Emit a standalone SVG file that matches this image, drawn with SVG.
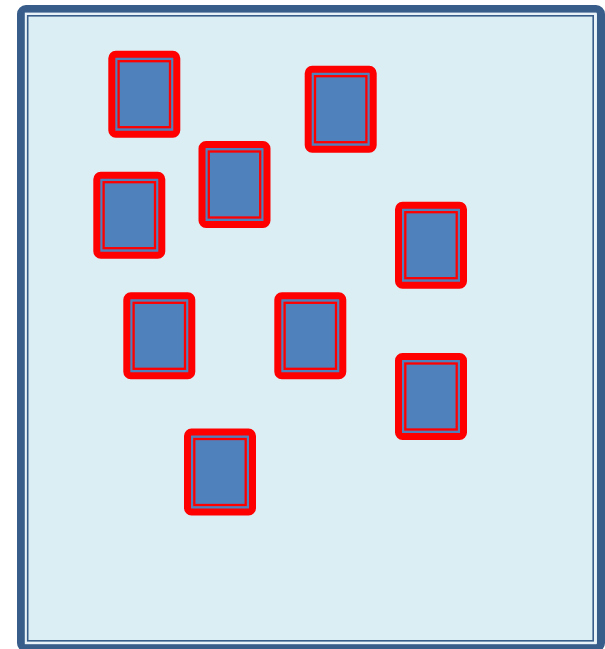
<svg xmlns="http://www.w3.org/2000/svg" width="605" height="649" viewBox="0 0 605 649">
<defs>
<style>
.frame-out{fill:#DBEEF4;stroke:#385D8A;stroke-width:8}
.frame-light{fill:none;stroke:#E9F2F8;stroke-width:2.4}
.frame-in{fill:none;stroke:#385D8A;stroke-width:1.6}
.card{fill:#4F81BD;stroke:#FF0000;stroke-width:7}
.card-in{fill:none;stroke:#FF0000;stroke-width:2.3}
</style>
<g id="cardShape">
<rect class="card" x="3.5" y="3.5" width="65" height="80" rx="4"/>
<rect class="card-in" x="10.3" y="10.5" width="51.4" height="66"/>
</g>
</defs>
<rect width="605" height="649" fill="#FFFFFF"/>
<g id="frame">
<rect class="frame-out" x="21" y="9" width="580" height="639" rx="5"/>
<rect class="frame-light" x="26" y="13.8" width="569.3" height="629.2"/>
<rect class="frame-in" x="27.7" y="15.8" width="565.5" height="625"/>
</g>
<g id="node1" transform="translate(108.3,50.7)"><use href="#cardShape"/></g>
<g id="node2" transform="translate(304.7,65.7)"><use href="#cardShape"/></g>
<g id="node3" transform="translate(198.5,141)"><use href="#cardShape"/></g>
<g id="node4" transform="translate(93.3,171.7)"><use href="#cardShape"/></g>
<g id="node5" transform="translate(395,201.7)"><use href="#cardShape"/></g>
<g id="node6" transform="translate(123.3,292.3)"><use href="#cardShape"/></g>
<g id="node7" transform="translate(274.3,292.3)"><use href="#cardShape"/></g>
<g id="node8" transform="translate(395,353)"><use href="#cardShape"/></g>
<g id="node9" transform="translate(184,428.5)"><use href="#cardShape"/></g>
<g id="connectors"></g>
</svg>
